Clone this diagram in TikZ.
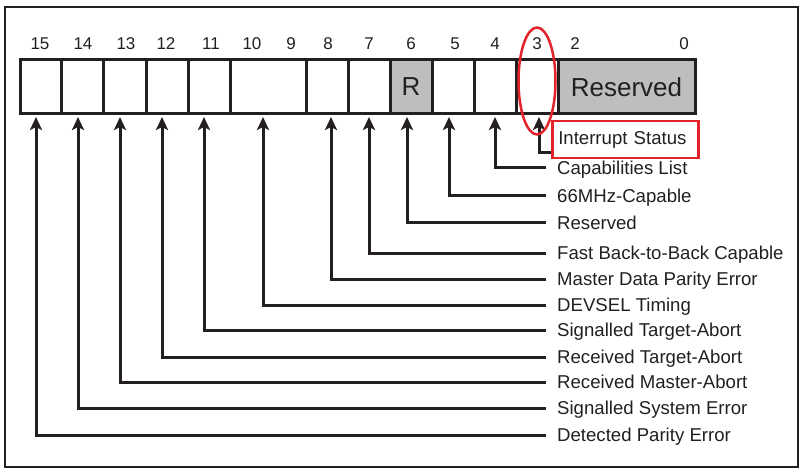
\documentclass[tikz,border=0pt]{standalone}
\usepackage{fontspec}
\setmainfont{Liberation Sans}
\usetikzlibrary{arrows.meta,calc}
\definecolor{ink}{HTML}{231F20}
\definecolor{regray}{HTML}{BCBEC0}
\definecolor{hired}{HTML}{E2232A}
\begin{document}
\begin{tikzpicture}[x=1pt,y=-1pt,
 cell/.style={draw=ink, line width=3pt, minimum height=54pt, inner sep=0pt, anchor=center, text=ink, font=\fontsize{26}{28}\selectfont},
 grayc/.style={cell, fill=regray},
 bitnum/.style={text=ink, font=\fontsize{17}{19}\selectfont, inner sep=0pt, text height=12.2pt, text depth=0pt},
 lab/.style={anchor=west, text=ink, font=\fontsize{18.6}{20}\selectfont, inner xsep=11pt, inner ysep=0pt, text height=13.4pt, text depth=0pt},
 conn/.style={draw=ink, line width=3pt, -{Stealth[length=13pt,width=12pt,inset=3pt]}, shorten >=1.5pt}
]
\useasboundingbox (0,0) rectangle (804,476);
\draw[ink, line width=1.5pt] (5,7) rectangle (798,467);

% register cells
\node[cell, minimum width=41pt] (c15) at (40.5,87) {};
\node[cell, minimum width=42pt] (c14) at (82,87) {};
\node[cell, minimum width=43pt] (c13) at (124.5,87) {};
\node[cell, minimum width=42pt] (c12) at (167,87) {};
\node[cell, minimum width=42pt] (c11) at (209,87) {};
\node[cell, minimum width=76pt] (c10) at (268,87) {};
\node[cell, minimum width=42pt] (c8) at (327,87) {};
\node[cell, minimum width=42pt] (c7) at (369,87) {};
\node[grayc, minimum width=42pt] (c6) at (411,87) {R};
\node[cell, minimum width=42pt] (c5) at (453,87) {};
\node[cell, minimum width=42pt] (c4) at (495,87) {};
\node[cell, minimum width=42pt] (c3) at (537,87) {};
\node[grayc, minimum width=137pt] (c2) at (626.5,87) {Reserved};

% bit numbers
\node[bitnum] (n15) at (40,43) {15};
\node[bitnum] (n14) at (83,43) {14};
\node[bitnum] (n13) at (126,43) {13};
\node[bitnum] (n12) at (166,43) {12};
\node[bitnum] (n11) at (211,43) {11};
\node[bitnum] (n10) at (252,43) {10};
\node[bitnum] (n9) at (291,43) {9};
\node[bitnum] (n8) at (328,43) {8};
\node[bitnum] (n7) at (369,43) {7};
\node[bitnum] (n6) at (411,43) {6};
\node[bitnum] (n5) at (455,43) {5};
\node[bitnum] (n4) at (495,43) {4};
\node[bitnum] (n3) at (537,43) {3};
\node[bitnum] (n2) at (575,43) {2};
\node[bitnum] (n0) at (684,43) {0};

% labels
\node[draw=hired, line width=2.5pt, text=ink, anchor=west, text width=134pt, inner xsep=6pt, inner ysep=0pt, minimum height=37pt, font=\fontsize{18.6}{20}\selectfont] (l3) at (551,139.5) {Interrupt Status};
\node[lab] (l4) at (546,168) {Capabilities List};
\node[lab] (l5) at (546,196) {66MHz-Capable};
\node[lab] (l6) at (546,223) {Reserved};
\node[lab] (l7) at (546,253) {Fast Back-to-Back Capable};
\node[lab] (l8) at (546,279) {Master Data Parity Error};
\node[lab] (l10) at (546,305) {DEVSEL Timing};
\node[lab] (l11) at (546,330) {Signalled Target-Abort};
\node[lab] (l12) at (546,357) {Received Target-Abort};
\node[lab] (l13) at (546,382) {Received Master-Abort};
\node[lab] (l14) at (546,408) {Signalled System Error};
\node[lab] (l15) at (546,435) {Detected Parity Error};

% connectors
\draw[conn] ([yshift=-13.5pt]l3.west) -| ([xshift=2pt]c3.south);
\draw[conn] (l4.west) -| (c4.south);
\draw[conn] (l5.west) -| ([xshift=-4pt]c5.south);
\draw[conn] (l6.west) -| ([xshift=-4pt]c6.south);
\draw[conn] (l7.west) -| (c7.south);
\draw[conn] (l8.west) -| ([xshift=4pt]c8.south);
\draw[conn] (l10.west) -| ([xshift=-5pt]c10.south);
\draw[conn] (l11.west) -| ([xshift=-5pt]c11.south);
\draw[conn] (l12.west) -| ([xshift=-5pt]c12.south);
\draw[conn] (l13.west) -| ([xshift=-4.5pt]c13.south);
\draw[conn] (l14.west) -| ([xshift=-4pt]c14.south);
\draw[conn] (l15.west) -| ([xshift=-4.5pt]c15.south);

% highlight ellipse round bit 3
\draw[hired, line width=2.5pt] (537,81) ellipse [x radius=18.5, y radius=53.5];
\end{tikzpicture}
\end{document}
